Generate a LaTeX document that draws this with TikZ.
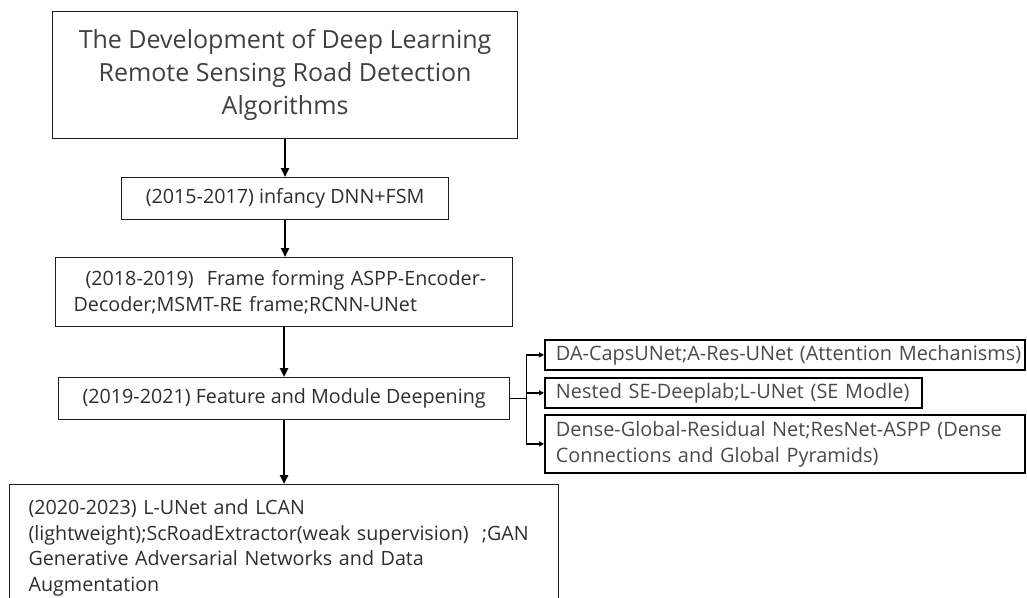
\documentclass[tikz,border=0pt]{standalone}
\usepackage{fontspec}
\setmainfont{Open Sans}
\usetikzlibrary{arrows.meta}
\definecolor{bodytxt}{HTML}{2E2E2E}
\definecolor{titletxt}{HTML}{404040}
\definecolor{sidetxt}{HTML}{4A4A4A}
\definecolor{edge}{HTML}{1E1E1E}
\begin{document}
\begin{tikzpicture}[x=1pt,y=-1pt,
  box/.style={draw=edge, line width=1.2pt, rectangle, inner sep=0pt,
    anchor=north west, text=bodytxt, font=\fontsize{19.7}{25.5}\selectfont},
  sidebox/.style={draw=black, line width=1.8pt, rectangle, inner ysep=0pt,
    inner xsep=11pt, anchor=north west, align=left, text=sidetxt,
    font=\fontsize{19.9}{26}\selectfont},
  flow/.style={draw=black, line width=2.5pt, -{Triangle[length=9pt,width=8pt]}},
  link/.style={draw=black, line width=1.4pt},
  branch/.style={link, -{Triangle[length=5pt,width=5pt]}}]
\useasboundingbox (0,0) rectangle (1027,597);

% main column
\node[box, minimum width=465pt, minimum height=127pt, align=center,
  text=titletxt, font=\fontsize{25}{33}\selectfont] (title) at (52,11)
  {\rule{0pt}{6pt}\\[-0.8em]The Development of Deep Learning\\Remote Sensing Road Detection\\Algorithms};
\node[box, minimum width=327pt, minimum height=42pt] (p1) at (121,177)
  {(2015-2017) infancy DNN+FSM};
\node[box, minimum width=457pt, minimum height=69pt, inner xsep=18pt,
  text width=421pt, align=left] (p2) at (55,257)
  {\mbox{\hspace{12pt}(2018-2019)\ \ Frame forming ASPP-Encoder-}\\
   \mbox{Decoder;MSMT-RE frame;RCNN-UNet}};
\node[box, minimum width=451pt, minimum height=42pt] (p3) at (58,377)
  {(2019-2021) Feature and Module Deepening};
\node[box, minimum width=549pt, inner xsep=19pt, inner ysep=0pt,
  text width=511pt, align=left, text depth=106pt] (p4) at (9,484)
  {\rule{0pt}{30pt}\mbox{(2020-2023) L-UNet and LCAN}\\
   \mbox{(lightweight);ScRoadExtractor(weak supervision)\ \ ;GAN}\\
   \mbox{Generative Adversarial Networks and Data}\\
   \mbox{Augmentation}};

% branches of the 2019-2021 stage
\node[sidebox, minimum width=480pt, minimum height=30pt, text width=458pt] (sa) at (544,339)
  {\mbox{DA-CapsUNet;A-Res-UNet (Attention Mechanisms)}};
\node[sidebox, minimum width=377pt, minimum height=30pt, text width=355pt] (sb) at (544,377)
  {\mbox{Nested SE-Deeplab;L-UNet (SE Modle)}};
\node[sidebox, minimum width=480pt, minimum height=58pt, text width=458pt] (sc) at (544,414)
  {\mbox{Dense-Global-Residual Net;ResNet-ASPP (Dense}\\
   \mbox{Connections and Global Pyramids)}};

% connectors
\draw[flow] (title.south) -- (title.south |- p1.north);
\draw[flow] (p1.south) -- (p1.south |- p2.north);
\draw[flow] (p2.south) -- (p2.south |- p3.north);
\draw[flow] (p3.south) -- (p3.south |- p4.north);

\draw[link] (p3.east) -- ++(16,0) coordinate (j);
\draw[link] (j |- sa.west) -- (j |- sc.west);
\draw[branch] (j |- sa.west) -- (sa.west);
\draw[branch] (j |- sb.west) -- (sb.west);
\draw[branch] (j |- sc.west) -- (sc.west);
\end{tikzpicture}
\end{document}
